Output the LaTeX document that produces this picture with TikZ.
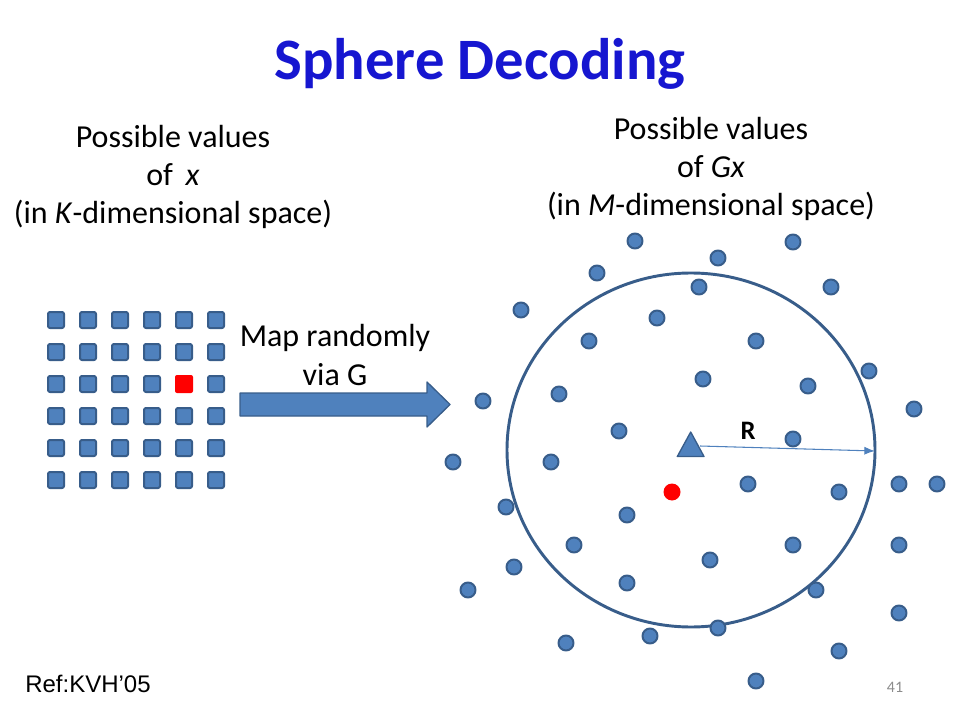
\documentclass[tikz,border=0pt]{standalone}
\usepackage{fontspec}
\setmainfont{Carlito}
\newfontfamily\reffont{Liberation Sans}
\usetikzlibrary{arrows.meta}
\definecolor{ptfill}{HTML}{4F81BD}
\definecolor{ptline}{HTML}{385D8A}
\definecolor{titleblue}{RGB}{22,22,208}
\definecolor{pagegray}{HTML}{8C8C8C}
\begin{document}
\begin{tikzpicture}[x=.75pt, y=-.75pt, line join=round,
	sq/.style={draw=ptline, fill=ptfill, line width=1.5pt, rounded corners=1.5pt},
	hit/.style={fill=red, rounded corners=1.5pt},
	pt/.style={draw=ptline, fill=ptfill, line width=1.5pt},
	txt/.style={align=center, inner sep=0pt, font=\fontsize{24}{28.8}\selectfont}]
	\useasboundingbox (0,0) rectangle (960,720);
	\node[anchor=base, text=titleblue, font=\fontsize{44}{53}\selectfont\bfseries] (title) at (480,80) {Sphere Decoding};
	%base = last line
	\node[txt, anchor=base] (xlabel)  at (173,224) {Possible values\\of\, \textit{x}\\(in \textit{K}-dimensional space)};
	\node[txt, anchor=base] (gxlabel) at (711,216) {Possible values\\of \textit{Gx}\\(in \textit{M}-dimensional space)};
	\node[txt, anchor=base] (maplabel) at (335,385) {Map randomly\\via G};
	\node[anchor=base, font=\fontsize{18}{21}\selectfont\reffont, inner sep=0pt] (ref) at (88,692) {Ref:KVH’05};
	\node[text=pagegray, font=\fontsize{12}{14}\selectfont] (page) at (895,687) {41};
	%grid
	\draw[sq] (56,320)  ++(-8,-8) rectangle ++(16,16);
	\draw[sq] (88,320)  ++(-8,-8) rectangle ++(16,16);
	\draw[sq] (120,320) ++(-8,-8) rectangle ++(16,16);
	\draw[sq] (152,320) ++(-8,-8) rectangle ++(16,16);
	\draw[sq] (184,320) ++(-8,-8) rectangle ++(16,16);
	\draw[sq] (216,320) ++(-8,-8) rectangle ++(16,16);
	\draw[sq] (56,352)  ++(-8,-8) rectangle ++(16,16);
	\draw[sq] (88,352)  ++(-8,-8) rectangle ++(16,16);
	\draw[sq] (120,352) ++(-8,-8) rectangle ++(16,16);
	\draw[sq] (152,352) ++(-8,-8) rectangle ++(16,16);
	\draw[sq] (184,352) ++(-8,-8) rectangle ++(16,16);
	\draw[sq] (216,352) ++(-8,-8) rectangle ++(16,16);
	\draw[sq] (56,384)  ++(-8,-8) rectangle ++(16,16);
	\draw[sq] (88,384)  ++(-8,-8) rectangle ++(16,16);
	\draw[sq] (120,384) ++(-8,-8) rectangle ++(16,16);
	\draw[sq] (152,384) ++(-8,-8) rectangle ++(16,16);
	\fill[hit] (184,384) ++(-9,-9) rectangle ++(18,18);
	\draw[sq] (216,384) ++(-8,-8) rectangle ++(16,16);
	\draw[sq] (56,416)  ++(-8,-8) rectangle ++(16,16);
	\draw[sq] (88,416)  ++(-8,-8) rectangle ++(16,16);
	\draw[sq] (120,416) ++(-8,-8) rectangle ++(16,16);
	\draw[sq] (152,416) ++(-8,-8) rectangle ++(16,16);
	\draw[sq] (184,416) ++(-8,-8) rectangle ++(16,16);
	\draw[sq] (216,416) ++(-8,-8) rectangle ++(16,16);
	\draw[sq] (56,448)  ++(-8,-8) rectangle ++(16,16);
	\draw[sq] (88,448)  ++(-8,-8) rectangle ++(16,16);
	\draw[sq] (120,448) ++(-8,-8) rectangle ++(16,16);
	\draw[sq] (152,448) ++(-8,-8) rectangle ++(16,16);
	\draw[sq] (184,448) ++(-8,-8) rectangle ++(16,16);
	\draw[sq] (216,448) ++(-8,-8) rectangle ++(16,16);
	\draw[sq] (56,480)  ++(-8,-8) rectangle ++(16,16);
	\draw[sq] (88,480)  ++(-8,-8) rectangle ++(16,16);
	\draw[sq] (120,480) ++(-8,-8) rectangle ++(16,16);
	\draw[sq] (152,480) ++(-8,-8) rectangle ++(16,16);
	\draw[sq] (184,480) ++(-8,-8) rectangle ++(16,16);
	\draw[sq] (216,480) ++(-8,-8) rectangle ++(16,16);
	%map arrow
	\filldraw[draw=ptline, fill=ptfill, line width=1pt] (240,393) -- ++(187,0) -- ++(0,-11) -- (450,404.5) -- (427,427) -- ++(0,-11) -- (240,416) -- cycle;
	%sphere
	\draw[ptline, line width=2.2pt] (691,450) ellipse (184 and 177);
	%points
	\draw[pt] (635,241) circle (7.5);
	\draw[pt] (793,242) circle (7.5);
	\draw[pt] (718,258) circle (7.5);
	\draw[pt] (597,273) circle (7.5);
	\draw[pt] (699,287) circle (7.5);
	\draw[pt] (831,287) circle (7.5);
	\draw[pt] (521,310) circle (7.5);
	\draw[pt] (657,318) circle (7.5);
	\draw[pt] (589,341) circle (7.5);
	\draw[pt] (756,341) circle (7.5);
	\draw[pt] (869,371) circle (7.5);
	\draw[pt] (703,379) circle (7.5);
	\draw[pt] (808,386) circle (7.5);
	\draw[pt] (559,394) circle (7.5);
	\draw[pt] (483,401) circle (7.5);
	\draw[pt] (914,409) circle (7.5);
	\draw[pt] (619,431) circle (7.5);
	\draw[pt] (793,439) circle (7.5);
	\draw[pt] (453,462) circle (7.5);
	\draw[pt] (551,462) circle (7.5);
	\draw[pt] (748,484) circle (7.5);
	\draw[pt] (839,492) circle (7.5);
	\draw[pt] (899,484) circle (7.5);
	\draw[pt] (937,484) circle (7.5);
	\draw[pt] (506,507) circle (7.5);
	\draw[pt] (627,515) circle (7.5);
	\draw[pt] (574,545) circle (7.5);
	\draw[pt] (793,545) circle (7.5);
	\draw[pt] (899,545) circle (7.5);
	\draw[pt] (710,560) circle (7.5);
	\draw[pt] (514,567) circle (7.5);
	\draw[pt] (627,583) circle (7.5);
	\draw[pt] (468,590) circle (7.5);
	\draw[pt] (816,590) circle (7.5);
	\draw[pt] (899,613) circle (7.5);
	\draw[pt] (718,628) circle (7.5);
	\draw[pt] (566,643) circle (7.5);
	\draw[pt] (650,636) circle (7.5);
	\draw[pt] (839,651) circle (7.5);
	\draw[pt] (756,681) circle (7.5);
	%received point and radius
	\fill[red] (672,492) circle (8.5);
	\filldraw[draw=ptline, fill=ptfill, line width=1pt] (690.7,432) -- (704,456.5) -- (677.3,456.5) -- cycle;
	\coordinate (centre) at (700,446);
	\coordinate (rim) at (875,451);
	\draw[ptfill, line width=.8pt, -{Latex[length=8pt, width=6pt]}] (centre) -- (rim);
	\node[font=\fontsize{20}{24}\selectfont\bfseries] (rlabel) at (748,431) {R};
\end{tikzpicture}
\end{document}
